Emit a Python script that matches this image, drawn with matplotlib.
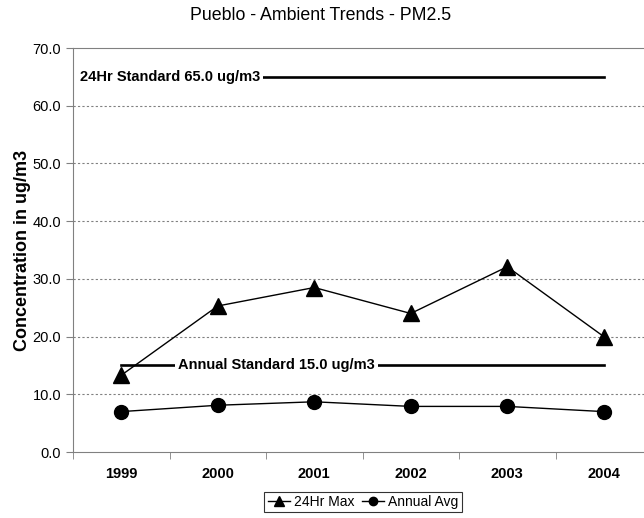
import numpy as np
import matplotlib.pyplot as plt

years = ["1999", "2000", "2001", "2002", "2003", "2004"]
max_24hr = [13.3, 25.3, 28.5, 24.0, 32.1, 20.0]
annual_avg = [7.0, 8.1, 8.7, 7.9, 7.9, 7.0]
std_24hr = 65.0
std_annual = 15.0
yticks = [0, 10, 20, 30, 40, 50, 60, 70]

plt.rcParams['font.family'] = ['Liberation Sans', 'DejaVu Sans']

fig = plt.figure(figsize=(6.44, 5.18), dpi=100)
# plot area runs past the right edge, like the original screenshot
ax = fig.add_axes([73 / 644, 66 / 518, 579 / 644, 404 / 518])

x = np.arange(len(years))

# standard lines, labels sit on a white box that hides part of the line
ax.plot([x[0], x[-1]], [std_24hr, std_24hr], color="black", linewidth=1.9, zorder=2)
ax.plot([x[0], x[-1]], [std_annual, std_annual], color="black", linewidth=1.9, zorder=2)
ax.text(-0.43, std_24hr, "24Hr Standard 65.0 ug/m3", fontweight="bold",
        fontsize=10.5, va="center", ha="left", zorder=3,
        bbox=dict(facecolor="white", edgecolor="none", pad=2))
ax.text(0.59, std_annual, "Annual Standard 15.0 ug/m3", fontweight="bold",
        fontsize=10.5, va="center", ha="left", zorder=3,
        bbox=dict(facecolor="white", edgecolor="none", pad=2))

ax.plot(x, max_24hr, color="black", marker="^", markersize=11, linewidth=1,
        label="24Hr Max", zorder=4)
ax.plot(x, annual_avg, color="black", marker="o", markersize=10, linewidth=1,
        label="Annual Avg", zorder=4)

ax.set_xlim(-0.5, len(years) - 0.5)
ax.set_ylim(0, 70)
ax.set_yticks(yticks)
ax.set_yticklabels([f"{v:.1f}" for v in yticks], fontsize=10.5)
ax.set_xticks(x)
ax.set_xticklabels(years, fontsize=10.5, fontweight="bold")
ax.set_xticks(np.arange(-0.5, len(years)), minor=True)
ax.tick_params(axis="x", which="major", length=0, pad=11)
ax.tick_params(axis="x", which="minor", length=5, direction="out", color="#808080")
ax.tick_params(axis="y", length=5, direction="out", color="#808080")

for v in yticks[1:-1]:
    ax.axhline(v, color="#808080", linestyle=(0, (2, 2)), linewidth=0.8, zorder=1)

for side in ["left", "bottom", "top"]:
    ax.spines[side].set_color("#808080")
ax.spines["right"].set_visible(False)

ax.set_ylabel("Concentration in ug/m3", fontsize=13, fontweight="bold", labelpad=1)
fig.text(321 / 644, 1 - 15 / 518, "Pueblo - Ambient Trends - PM2.5", fontsize=12.8,
         ha="center", va="center")

leg = fig.legend(loc="center", bbox_to_anchor=(363 / 644, 1 - 502 / 518), ncol=2,
                 frameon=True, fancybox=False, edgecolor="black",
                 handlelength=1.6, handletextpad=0.3, columnspacing=0.5,
                 borderpad=0.25, markerscale=0.6, prop={"size": 10})
leg.get_frame().set_linewidth(0.8)

fig.savefig("out.png", dpi=100)
